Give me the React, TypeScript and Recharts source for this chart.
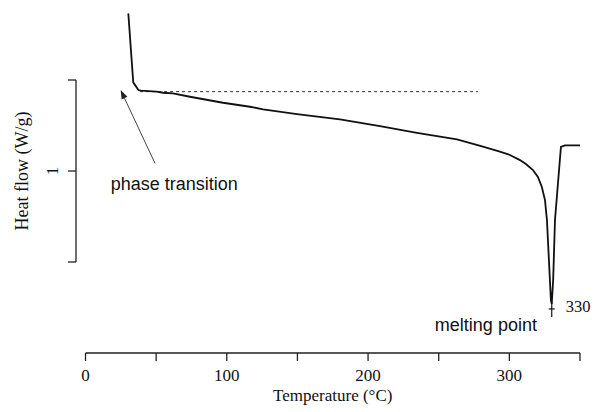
import React from "react";
import { LineChart, Line, XAxis, YAxis, ReferenceLine, ReferenceDot } from "recharts";

// DSC trace
const temperature = [
  30.3, 33.8, 37.4, 39.3, 50.3, 54.9, 61.9, 73.9, 97.3, 116.4, 125.7, 149.7, 180.1, 208.4,
  234.6, 262.9, 281.3, 293.3, 300.4, 307.5, 311.7, 316.7, 320.2, 323.0, 325.2, 326.6, 328.7,
  329.4, 330.0, 331.0, 332.3, 336.5, 339.3, 350.0,
];
const heatFlow = [
  1.866, 1.487, 1.445, 1.442, 1.436, 1.43, 1.427, 1.408, 1.375, 1.353, 1.339, 1.313, 1.284, 1.247,
  1.21, 1.174, 1.134, 1.106, 1.088, 1.06, 1.038, 1.005, 0.967, 0.912, 0.841, 0.731, 0.401,
  0.291, 0.27, 0.401, 0.731, 1.132, 1.141, 1.141,
];

// dashed extrapolated baseline
const baselineT = [38.6, 277.8];
const baselineH = [1.436, 1.436];

const xTicks = [0, 50, 100, 150, 200, 250, 300, 350];
const yTicks = [0.5, 1, 1.5];
const yLabelled = [1];
const X_MAX = 350;
const Y_MAX = 1.875;

const peakT = 330;
const peakMarkH = 0.242;
const peakLabel = "330";

const arrowFrom = { x: 49.2, y: 1.042 };
const arrowTo = { x: 24.9, y: 1.445 };
const phaseText = { x: 62.8, y: 0.896, text: "phase transition" };
const meltText = { x: 283.4, y: 0.121, text: "melting point" };

const SERIF = "'Liberation Serif', 'Times New Roman', serif";
const SANS = "'Liberation Sans', Arial, sans-serif";
const AXIS = "#222";
const X_PAD = 9.5;

const curve = temperature.map((t, i) => ({ t, h: heatFlow[i] }));
const baseline = baselineT.map((t, i) => ({ t, h: baselineH[i] }));

function YTick(props: any) {
  const { x, y, payload } = props;
  if (!yLabelled.includes(payload.value)) return null;
  return (
    <text
      x={x}
      y={y}
      transform={`rotate(-90, ${x}, ${y})`}
      textAnchor="middle"
      fontFamily={SERIF}
      fontSize={17}
      fill="#111"
    >
      {payload.value}
    </text>
  );
}

function ArrowShape(props: any) {
  const { x1, y1, x2, y2 } = props;
  const dx = x2 - x1;
  const dy = y2 - y1;
  const len = Math.sqrt(dx * dx + dy * dy);
  const ux = dx / len;
  const uy = dy / len;
  const head = 9;
  const half = 3.2;
  const bx = x2 - ux * head;
  const by = y2 - uy * head;
  return (
    <g>
      <line x1={x1} y1={y1} x2={bx} y2={by} stroke="#444" strokeWidth={1} />
      <polygon
        points={`${x2},${y2} ${bx - uy * half},${by + ux * half} ${bx + uy * half},${by - ux * half}`}
        fill="#222"
      />
    </g>
  );
}

function note(text: string) {
  return (p: any) => (
    <text x={p.cx} y={p.cy} textAnchor="middle" fontFamily={SANS} fontSize={18} fill="#111">
      {text}
    </text>
  );
}

function PeakMark(p: any) {
  const { cx, cy } = p;
  return (
    <g>
      <line x1={cx} y1={cy - 7} x2={cx} y2={cy + 8} stroke="#111" strokeWidth={1.2} />
      <line x1={cx - 3} y1={cy} x2={cx + 3} y2={cy} stroke="#111" strokeWidth={1.2} />
      <text x={cx + 14} y={cy + 2.7} fontFamily={SERIF} fontSize={16.5} fill="#111">
        {peakLabel}
      </text>
    </g>
  );
}

export default function App() {
  return (
    <div style={{ position: "absolute", left: 0, top: 0, background: "#fff" }}>
      <LineChart
        width={602}
        height={412}
        data={curve}
        margin={{ top: 11.75, right: 22, bottom: 0, left: 0 }}
      >
        <XAxis
          dataKey="t"
          type="number"
          domain={[0, X_MAX]}
          ticks={xTicks}
          padding={{ left: X_PAD, right: 0 }}
          height={59}
          tickSize={8}
          tickMargin={7.5}
          tickFormatter={(v: number) => (v % 100 === 0 ? String(v) : "")}
          tick={{ fontFamily: SERIF, fontSize: 17, fill: "#111" }}
          tickLine={{ stroke: AXIS, strokeWidth: 1.3 }}
          axisLine={{ stroke: AXIS, strokeWidth: 1.3, strokeDasharray: `0 ${X_PAD} 2000` }}
          label={{
            content: (p: any) => {
              const vb = p.viewBox;
              const cx = vb.x + X_PAD + (vb.width - X_PAD) / 2;
              return (
                <text x={cx} y={vb.y + 48} textAnchor="middle" fontFamily={SERIF} fontSize={17} fill="#111">
                  Temperature (°C)
                </text>
              );
            },
          }}
        />
        <YAxis
          type="number"
          domain={[0, Y_MAX]}
          ticks={yTicks}
          width={76}
          tickSize={8}
          tickMargin={9.7}
          tick={<YTick />}
          tickLine={{ stroke: AXIS, strokeWidth: 1.3 }}
          axisLine={{ stroke: AXIS, strokeWidth: 1.3, strokeDasharray: "0 68.25 182 2000" }}
          label={{
            content: (p: any) => {
              const vb = p.viewBox;
              const cy = vb.y + (vb.height * (Y_MAX - 1)) / Y_MAX;
              return (
                <text
                  x={28}
                  y={cy}
                  transform={`rotate(-90, 28, ${cy})`}
                  textAnchor="middle"
                  fontFamily={SERIF}
                  fontSize={18}
                  fill="#111"
                >
                  Heat flow (W/g)
                </text>
              );
            },
          }}
        />
        <Line
          data={baseline}
          dataKey="h"
          stroke="#333"
          strokeWidth={1}
          strokeDasharray="3 3"
          dot={false}
          isAnimationActive={false}
        />
        <Line
          dataKey="h"
          type="linear"
          stroke="#111"
          strokeWidth={1.8}
          dot={false}
          isAnimationActive={false}
        />
        <ReferenceLine segment={[arrowFrom, arrowTo]} shape={ArrowShape} ifOverflow="visible" />
        <ReferenceDot x={phaseText.x} y={phaseText.y} shape={note(phaseText.text)} />
        <ReferenceDot x={meltText.x} y={meltText.y} shape={note(meltText.text)} />
        <ReferenceDot x={peakT} y={peakMarkH} shape={PeakMark} />
      </LineChart>
    </div>
  );
}
